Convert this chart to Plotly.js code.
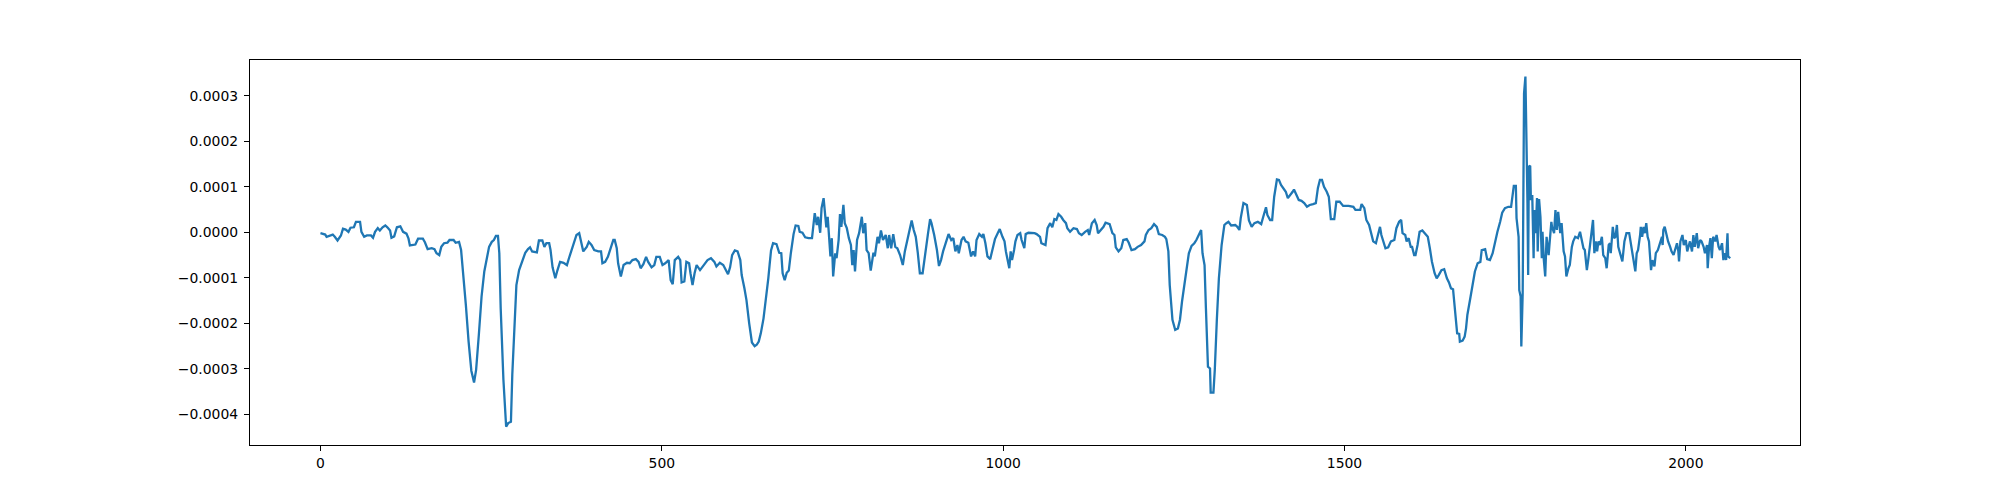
<!DOCTYPE html>
<html>
<head>
<meta charset="utf-8">
<script src="https://cdn.plot.ly/plotly-3.0.1.min.js"></script>
<style>html,body{margin:0;padding:0;background:#fff;}</style>
</head>
<body>
<div id="chart" style="width:2000px;height:500px;"></div>
<script>
// sample index (x)
const sampleIndex = [
0,7,9,14,18,21,25,30,33,37,41,44,49,52,58,60,64,68,74,77,80,84,87,91,95,98,102,104,108,112,117,121,126,129,131,139,143,150,
153,157,163,167,170,174,177,181,186,189,195,198,203,206,209,213,217,221,225,228,232,236,240,244,247,251,254,257,260,262,264,268,272,275,279,281,284,287,291,295,300,304,307,310,317,320,325,328,331,335,337,340,344,347,351,356,361,364,368,372,375,379,382,385,390,393,397,401,
407,411,413,417,421,424,429,431,434,436,440,444,449,453,457,462,466,469,473,477,480,485,489,492,497,501,505,510,513,516,519,524,527,529,533,536,540,542,545,548,551,556,563,567,572,577,580,585,590,595,597,600,603,607,611,615,617,621,624,628,632,636,639,642,645,649,652,
656,658,660,663,668,672,675,677,680,683,686,689,693,696,700,702,706,710,715,720,722,724,727,729,732,734,737,739,741,743,745,747,749,751,754,756,759,761,763,766,768,771,774,777,779,781,783,786,789,793,795,798,800,803,806,810,812,816,818,821,824,828,831,833,836,839,842,845,849,853,856,860,864,866,869,872,875,878,882,885,888,890,893,895,899,
903,906,909,912,916,920,924,927,930,933,935,939,942,945,949,953,956,959,961,965,969,971,974,977,981,984,988,992,995,999,1002,1004,1007,1009,1011,1013,1016,1018,1021,1025,1027,1031,1033,1037,1046,1049,1054,1056,1062,1065,1069,1072,1075,1078,1081,1085,1088,1092,1094,1098,1103,1108,1111,1115,1120,1124,1126,1130,1134,1137,1139,1143,1147,1150,
1156,1160,1163,1165,1169,1173,1176,1181,1184,1188,1193,1197,1202,1207,1209,1213,1217,1221,1225,1228,1233,1237,1239,1242,1244,1248,1252,1256,1259,1262,1265,1269,1272,1276,1280,1283,1287,1290,1292,1295,1297,1300,1303,1304,1308,1310,1313,1316,1320,1324,1327,1330,1334,1340,1343,1346,1348,1352,1357,1360,1364,1368,1373,1378,1381,1385,1387,1391,1394,1397,1401,
1404,1407,1410,1414,1417,1420,1424,1426,1430,1433,1437,1441,1445,1449,1454,1458,1461,1464,1467,1470,1474,1477,1480,1485,1488,1493,1498,1506,1513,1516,1523,1525,1529,1532,1536,1540,1542,1546,1549,1552,1554,1557,1560,1564,1568,1573,1576,1580,1583,1585,1589,1591,1594,1597,1599,1602,1604,1607,1610,1614,1618,1622,1625,1628,1632,1635,1638,1642,1646,
1650,1653,1656,1659,1662,1665,1668,1669,1673,1676,1678,1680,1684,1687,1691,1695,1699,1701,1706,1709,1713,1717,1720,1724,1728,1731,1735,1740,1744,1746,1748,1751,1752,1755,1756,1758,1759,1761,1762,1763,1765,1767,1768,1769,1770,1772,1773,1775,1777,1778,1780,1782,1783,1785,1787,1789,1790,1792,1794,1796,1799,1801,1803,1804,1807,1809,1811,1813,1816,1818,1821,1823,1825,1828,1830,1833,1835,1838,1842,1845,1847,1850,1852,1855,1857,1860,1862,1864,1866,1868,1870,1872,1874,1877,1879,1882,1884,1887,1889,1890,1893,1895,1897,1899,1901,
1905,1907,1910,1913,1917,1920,1923,1926,1928,1930,1933,1934,1936,1938,1940,1942,1944,1946,1949,1951,1954,1956,1959,1962,1965,1966,1967,1969,1972,1974,1977,1979,1982,1984,1987,1989,1990,1992,1995,1997,2000,2002,2004,2006,2009,2011,2013,2016,2018,2021,2023,2026,2028,2031,2032,2034,2036,2038,2040,2043,2045,2048,2050,2053,2055,2057,2059,2061,2062,2065
];

// values in units of 1e-4
const valueE4 = [
-0.02,-0.05,-0.10,-0.08,-0.05,-0.10,-0.18,-0.07,0.08,0.06,0.01,0.10,0.11,0.23,0.23,0.01,-0.10,-0.07,-0.07,-0.12,0.01,0.09,0.04,0.11,0.15,0.11,0.04,-0.12,-0.09,0.11,0.13,0.01,-0.03,-0.14,-0.29,-0.27,-0.14,-0.14,
-0.22,-0.37,-0.35,-0.37,-0.46,-0.50,-0.32,-0.24,-0.23,-0.17,-0.17,-0.23,-0.21,-0.39,-0.86,-1.60,-2.40,-3.04,-3.30,-3.02,-2.25,-1.41,-0.86,-0.52,-0.32,-0.21,-0.17,-0.08,-0.08,-0.46,-1.67,-3.24,-4.27,-4.19,-4.16,-3.13,-1.96,-1.16,-0.83,-0.64,-0.45,-0.37,-0.33,-0.42,-0.44,-0.18,-0.18,-0.32,-0.24,-0.24,-0.39,-0.77,-1.01,-0.84,-0.65,-0.67,-0.72,-0.57,-0.39,-0.17,-0.06,-0.02,-0.21,-0.42,-0.32,-0.21,-0.28,-0.39,
-0.42,-0.42,-0.68,-0.65,-0.54,-0.39,-0.17,-0.17,-0.35,-0.68,-0.97,-0.72,-0.67,-0.68,-0.61,-0.59,-0.65,-0.79,-0.70,-0.54,-0.65,-0.77,-0.72,-0.54,-0.54,-0.72,-0.68,-0.61,-1.05,-1.14,-0.61,-0.54,-0.61,-1.10,-1.08,-0.65,-0.68,-0.90,-1.16,-0.90,-0.72,-0.83,-0.68,-0.61,-0.57,-0.65,-0.75,-0.67,-0.72,-0.86,-0.92,-0.77,-0.50,-0.40,-0.42,-0.61,-0.94,-1.23,-1.49,-2.00,-2.42,-2.50,-2.47,-2.40,-2.22,-1.89,-1.56,
-1.01,-0.70,-0.40,-0.24,-0.26,-0.45,-0.46,-0.90,-1.05,-0.89,-0.84,-0.46,-0.04,0.15,0.14,0.01,-0.01,-0.11,-0.13,-0.13,0.23,0.42,0.16,0.34,-0.01,0.53,0.75,0.31,0.11,0.34,-0.20,-0.53,-0.13,-0.97,-0.46,-0.57,-0.17,0.40,0.12,0.60,0.20,0.09,-0.13,-0.28,-0.72,-0.39,-0.86,-0.17,-0.02,0.34,-0.02,0.20,-0.39,-0.46,-0.84,-0.45,-0.53,-0.10,-0.24,0.04,-0.17,-0.06,-0.35,-0.06,-0.35,-0.04,-0.32,-0.35,-0.50,-0.72,-0.42,-0.17,0.09,0.26,0.05,-0.10,-0.46,-0.90,-0.90,-0.61,-0.32,-0.02,0.29,0.20,-0.06,
-0.39,-0.74,-0.61,-0.42,-0.20,-0.04,-0.17,-0.13,-0.42,-0.28,-0.46,-0.17,-0.10,-0.20,-0.23,-0.53,-0.42,-0.53,-0.17,-0.04,-0.10,-0.04,-0.24,-0.53,-0.59,-0.39,-0.15,-0.02,0.07,-0.10,-0.20,-0.42,-0.68,-0.79,-0.42,-0.61,-0.39,-0.20,-0.06,-0.02,-0.17,-0.35,-0.04,-0.01,-0.02,-0.04,-0.10,-0.24,-0.28,0.09,0.20,0.11,0.29,0.27,0.40,0.34,0.27,0.20,0.09,0.01,0.09,0.07,-0.02,-0.06,0.01,0.05,-0.06,0.20,0.27,0.16,-0.02,0.05,0.12,0.21,
0.18,-0.02,-0.06,-0.33,-0.42,-0.35,-0.17,-0.15,-0.23,-0.39,-0.37,-0.32,-0.28,-0.20,-0.06,0.05,0.09,0.18,0.12,-0.04,-0.06,-0.10,-0.15,-0.42,-1.16,-1.92,-2.14,-2.11,-1.92,-1.52,-1.19,-0.79,-0.46,-0.30,-0.24,-0.17,-0.02,0.05,-0.46,-0.72,-1.67,-2.95,-2.99,-3.52,-3.52,-3.02,-1.92,-1.01,-0.28,0.16,0.20,0.23,0.15,0.16,0.12,0.05,0.31,0.64,0.60,0.26,0.12,0.20,0.23,0.18,0.34,0.55,0.38,0.27,0.27,0.78,1.16,
1.15,1.04,0.97,0.89,0.75,0.80,0.89,0.94,0.82,0.71,0.69,0.64,0.56,0.60,0.62,0.64,0.97,1.15,1.15,1.00,0.89,0.78,0.29,0.29,0.67,0.67,0.58,0.58,0.56,0.49,0.49,0.62,0.53,0.27,0.16,-0.06,-0.20,-0.24,-0.06,0.12,-0.06,-0.20,-0.35,-0.33,-0.20,-0.17,0.09,0.23,0.27,-0.02,-0.06,-0.20,-0.13,-0.32,-0.32,-0.50,-0.50,-0.28,0.01,0.04,-0.02,-0.10,-0.35,-0.64,-0.90,-1.01,-0.94,-0.83,-0.81,
-1.01,-1.10,-1.23,-1.25,-1.67,-2.22,-2.23,-2.40,-2.38,-2.29,-2.11,-1.81,-1.47,-1.16,-0.86,-0.68,-0.65,-0.39,-0.37,-0.59,-0.61,-0.46,-0.23,0.01,0.23,0.43,0.53,0.56,0.56,0.86,1.02,1.02,0.31,-0.10,-1.27,-1.41,-2.51,-1.34,1.95,3.05,3.42,1.88,0.64,-0.94,1.44,1.46,0.71,0.82,-0.57,0.49,-0.02,0.75,-0.42,0.73,0.34,-0.57,0.01,-0.61,-0.97,-0.10,-0.50,-0.13,0.23,0.12,-0.02,0.49,0.05,0.45,-0.02,0.20,-0.42,-0.53,-0.97,-0.79,-0.72,-0.32,-0.20,-0.10,-0.13,0.01,-0.17,-0.35,-0.39,-0.83,-0.61,-0.24,0.01,0.27,-0.46,-0.20,-0.42,-0.20,-0.28,-0.10,-0.50,-0.57,-0.79,-0.28,-0.24,-0.46,0.12,-0.13,-0.10,0.16,-0.32,
-0.57,-0.64,-0.20,-0.02,-0.02,-0.32,-0.61,-0.86,-0.46,-0.39,-0.06,0.12,-0.10,0.12,-0.02,0.20,-0.10,-0.20,-0.83,-0.61,-0.75,-0.46,-0.39,-0.24,-0.10,-0.28,0.05,0.12,-0.10,-0.20,-0.32,-0.42,-0.50,-0.39,-0.24,-0.42,-0.64,-0.20,-0.06,-0.28,-0.17,-0.42,-0.32,-0.20,-0.42,-0.06,-0.32,-0.02,-0.35,-0.17,-0.20,-0.32,-0.46,-0.28,-0.79,-0.32,-0.13,-0.57,-0.10,-0.20,-0.06,-0.32,-0.39,-0.24,-0.61,-0.46,-0.61,-0.02,-0.53,-0.57
];
const VALUE_UNIT = 1e-4;

const xTickVals = [0, 500, 1000, 1500, 2000];
const yTickVals = [-0.0004, -0.0003, -0.0002, -0.0001, 0, 0.0001, 0.0002, 0.0003];

const yValues = valueE4.map(v => v * VALUE_UNIT);

const trace = {
  x: sampleIndex,
  y: yValues,
  type: 'scatter',
  mode: 'lines',
  line: {color: '#1f77b4', width: 2.3},
  hoverinfo: 'skip'
};

const axisCommon = {
  showgrid: false,
  zeroline: false,
  showline: true,
  linecolor: '#000',
  linewidth: 1.1,
  mirror: true,
  ticks: 'outside',
  ticklen: 5,
  tickwidth: 1.1,
  tickcolor: '#000',
  tickfont: {family: 'DejaVu Sans', size: 13.9, color: '#000'}
};

const layout = {
  width: 2000,
  height: 500,
  margin: {l: 250, r: 200, t: 60, b: 55, pad: 0},
  paper_bgcolor: '#fff',
  plot_bgcolor: '#fff',
  showlegend: false,
  font: {family: 'DejaVu Sans', size: 13.9, color: '#000'},
  xaxis: Object.assign({}, axisCommon, {
    range: [-103.2, 2167.2],
    tickmode: 'array',
    tickvals: xTickVals,
    ticktext: xTickVals.map(String)
  }),
  yaxis: Object.assign({}, axisCommon, {
    range: [-0.0004671, 0.0003783],
    tickmode: 'array',
    tickvals: yTickVals,
    tickformat: '.4f',
    ticklabelstandoff: 3
  })
};

Plotly.newPlot('chart', [trace], layout, {displayModeBar: false, staticPlot: true});
</script>
</body>
</html>
